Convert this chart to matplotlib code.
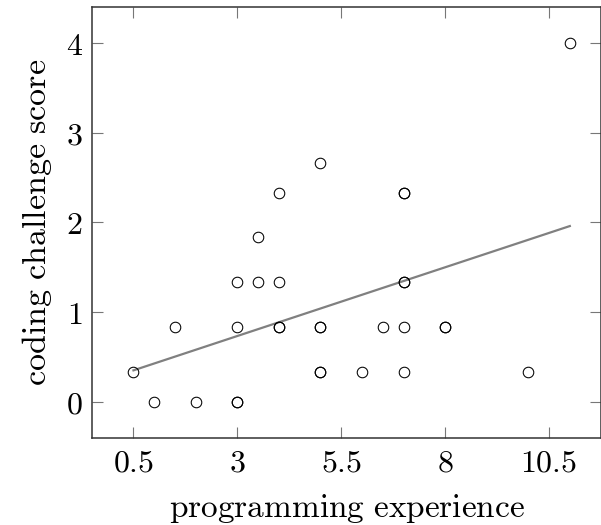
import matplotlib
matplotlib.use('Agg')
import matplotlib.pyplot as plt
import numpy as np

# years of programming experience vs. coding challenge score
experience = [0.5, 1, 1.5, 2, 3, 3, 3, 3, 3.5, 3.5, 4, 4, 4, 4, 5, 5, 5, 5, 5,
              6, 6.5, 7, 7, 7, 7, 7, 7, 8, 8, 10, 11]
score = [0.333, 0, 0.833, 0, 0, 0, 0.833, 1.333, 1.333, 1.833, 0.833, 0.833, 1.333,
         2.333, 0.333, 0.333, 0.833, 0.833, 2.667, 0.333, 0.833, 0.333, 0.833,
         1.333, 1.333, 2.333, 2.333, 0.833, 0.833, 0.333, 4]
xticks = [0.5, 3, 5.5, 8, 10.5]
yticks = [0, 1, 2, 3, 4]

plt.rcParams['mathtext.fontset'] = 'cm'
plt.rcParams['font.family'] = 'serif'
plt.rcParams['font.serif'] = ['DejaVu Serif']

fig = plt.figure(figsize=(6.01, 5.25), dpi=100)
ax = fig.add_axes([0.1536, 0.1663, 0.8464, 0.8198])

x = np.array(experience)
y = np.array(score)
slope, intercept = np.polyfit(x, y, 1)
xs = np.array([x.min(), x.max()])
ax.plot(xs, slope * xs + intercept, color='#808080', lw=1.6, zorder=2)

ax.plot(x, y, 'o', ms=7.6, mfc='none', mec='black', mew=0.75, zorder=3)

ax.set_xlim(-0.49, 11.75)
ax.set_ylim(-0.4, 4.4)
ax.set_xticks(xticks)
ax.set_yticks(yticks)
ax.set_xticklabels([r'$%g$' % t for t in xticks])
ax.set_yticklabels([r'$%g$' % t for t in yticks])
ax.tick_params(direction='in', length=8, width=0.8, color='#777777',
               labelsize=23, top=True, right=True, pad=7)

for s in ax.spines.values():
    s.set_linewidth(1.1)
    s.set_color('#333333')

ax.set_xlabel(r'$\mathrm{programming\ experience}$', fontsize=24, labelpad=10)
ax.set_ylabel(r'$\mathrm{coding\ challenge\ score}$', fontsize=24.5, labelpad=8)

fig.savefig('out.png', dpi=100, facecolor='white')
